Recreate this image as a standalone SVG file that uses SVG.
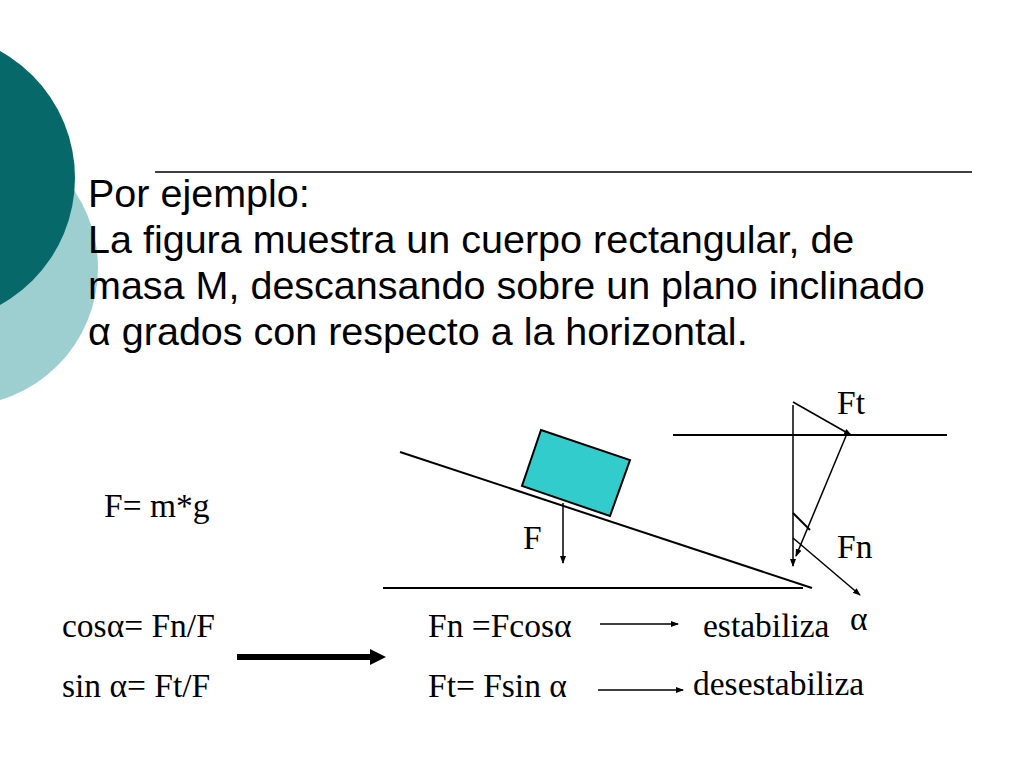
<svg xmlns="http://www.w3.org/2000/svg" width="1024" height="768" viewBox="0 0 1024 768">
<defs>
<marker id="ah" markerWidth="8" markerHeight="8" refX="7" refY="4" orient="auto" markerUnits="userSpaceOnUse"><path d="M0,1 L8,4 L0,7 Z" fill="#000"/></marker>
<style>
.s{font-family:"Liberation Sans",Arial,sans-serif;font-size:39.5px;fill:#000}
.t{font-family:"Liberation Serif","Times New Roman",serif;font-size:33.5px;fill:#000}
.l{stroke:#000;stroke-width:2;fill:none}
.a{stroke:#000;stroke-width:1.5;fill:none;marker-end:url(#ah)}
</style>
</defs>
<rect width="1024" height="768" fill="#fff"/>
<circle cx="-40" cy="268" r="138" fill="#9dcfd0"/>
<circle cx="-70" cy="178" r="145" fill="#07686a"/>
<line x1="155" y1="172" x2="972" y2="172" stroke="#000" stroke-width="1.5"/>
<text class="s" x="88" y="207">Por ejemplo:</text>
<text class="s" x="88" y="253">La figura muestra un cuerpo rectangular, de</text>
<text class="s" x="88" y="299">masa M, descansando sobre un plano inclinado</text>
<text class="s" x="88" y="345">α grados con respecto a la horizontal.</text>
<g id="incline">
<line class="l" x1="400" y1="452" x2="812" y2="588"/>
<line class="l" x1="383" y1="588" x2="803" y2="588"/>
<polygon points="541,430 630,460 610,516 522,486" fill="#33cccc" stroke="#000" stroke-width="2"/>
</g>
<g id="connectors">
<line class="a" x1="563" y1="503" x2="563" y2="563"/>
<line class="a" x1="793" y1="405" x2="793" y2="566"/>
<line class="a" x1="793" y1="402" x2="851" y2="435"/>
<line class="l" x1="673" y1="435" x2="947" y2="435" stroke-width="1.5"/>
<line class="a" x1="846" y1="436" x2="796" y2="556"/>
<line class="a" x1="793" y1="538" x2="860" y2="595"/>
<line class="l" x1="793" y1="513" x2="810" y2="530" stroke-width="1.5"/>
<line class="a" x1="600" y1="624" x2="678" y2="624"/>
<line class="a" x1="598" y1="690" x2="683" y2="690"/>
<line x1="237" y1="657" x2="372" y2="657" stroke="#000" stroke-width="6"/>
<polygon points="370,649 386,657 370,665" fill="#000"/>
</g>
<text class="t" x="837" y="414">Ft</text>
<text class="t" x="837" y="558">Fn</text>
<text class="t" x="850" y="630">α</text>
<text class="t" x="523" y="549">F</text>
<text class="t" x="104" y="517">F= m*g</text>
<text class="t" x="62" y="637">cosα= Fn/F</text>
<text class="t" x="62" y="697">sin α= Ft/F</text>
<text class="t" x="428" y="637">Fn =Fcosα</text>
<text class="t" x="428" y="697">Ft=  Fsin α</text>
<text class="t" x="703" y="637">estabiliza</text>
<text class="t" x="693" y="695">desestabiliza</text>
</svg>
